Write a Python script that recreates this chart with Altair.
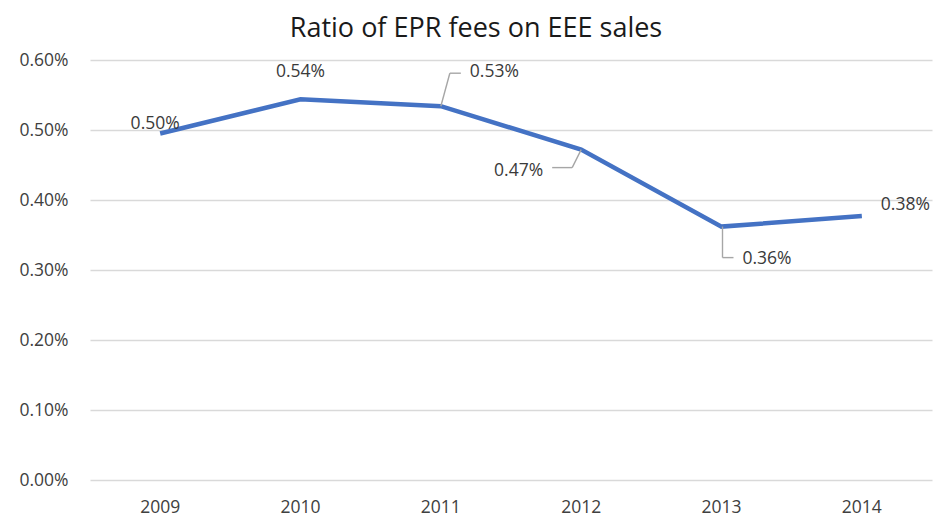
import altair as alt
import pandas as pd

years = ["2009", "2010", "2011", "2012", "2013", "2014"]
ratios = [0.00495, 0.00544, 0.00534, 0.00472, 0.00362, 0.00377]
labels = ["0.50%", "0.54%", "0.53%", "0.47%", "0.36%", "0.38%"]

df = pd.DataFrame({"year": years, "ratio": ratios, "label": labels})

FONT = "Open Sans"
LABEL_COLOR = "#3a3a3a"
TICK_COLOR = "#404040"

x_enc = alt.X("year:N", title=None, sort=years,
              scale=alt.Scale(paddingInner=0, paddingOuter=0),
              axis=alt.Axis(labelAngle=0, ticks=False, domain=False, grid=False,
                            labelFont=FONT, labelFontSize=17.5, labelColor=TICK_COLOR,
                            labelPadding=18))
y_enc = alt.Y("ratio:Q", title=None,
              scale=alt.Scale(domain=[0, 0.006], nice=False),
              axis=alt.Axis(format=".2%", values=[0, 0.001, 0.002, 0.003, 0.004, 0.005, 0.006],
                            ticks=False, domain=False, grid=True, gridColor="#d9d9d9",
                            gridWidth=1.3, labelFont=FONT, labelFontSize=17.5,
                            labelColor=TICK_COLOR, labelPadding=22))

base = alt.Chart(df)

line = base.mark_line(color="#4472C4", strokeWidth=4.5, strokeCap="butt").encode(x=x_enc, y=y_enc)

def txt(year, dx, dy, align):
    return base.transform_filter(alt.datum.year == year).mark_text(
        dx=dx, dy=dy, align=align, baseline="middle", font=FONT, fontSize=17.5,
        color=LABEL_COLOR).encode(x=alt.X("year:N", sort=years), y="ratio:Q", text="label:N")

def leader(year, x1o, y1o, x2o, y2o):
    return base.transform_filter(alt.datum.year == year).mark_rule(
        color="#a6a6a6", strokeWidth=1.4, xOffset=x1o, yOffset=y1o,
        x2Offset=x2o, y2Offset=y2o).encode(
        x=alt.X("year:N", sort=years), y="ratio:Q",
        x2="year:N", y2="ratio:Q")

layers = [
    line,
    leader("2011", 0, 0, 9, -33), leader("2011", 9, -33, 20, -33),
    leader("2012", 0, 0, -9, 18), leader("2012", -9, 18, -29, 18),
    leader("2013", 1, 0, 1, 31), leader("2013", 1, 31, 12, 31),
    txt("2009", -5, -10, "center"),
    txt("2010", 0, -27, "center"),
    txt("2011", 29, -34, "left"),
    txt("2012", -38, 21, "right"),
    txt("2013", 21, 32, "left"),
    txt("2014", 19, -11, "left"),
]

chart = alt.layer(*layers).properties(
    width=842, height=420,
    background="white",
    title=alt.TitleParams("Ratio of EPR fees on EEE sales", font=FONT, fontSize=27,
                          fontWeight="normal", color="#1a1a1a", anchor="middle",
                          dx=-35, offset=8),
    autosize=alt.AutoSizeParams(type="none"),
    padding={"left": 82, "top": 52, "right": 2, "bottom": 40},
).configure_view(strokeWidth=0, stroke="transparent")

chart.save("out.html", embed_options={"renderer": "svg", "actions": False})
